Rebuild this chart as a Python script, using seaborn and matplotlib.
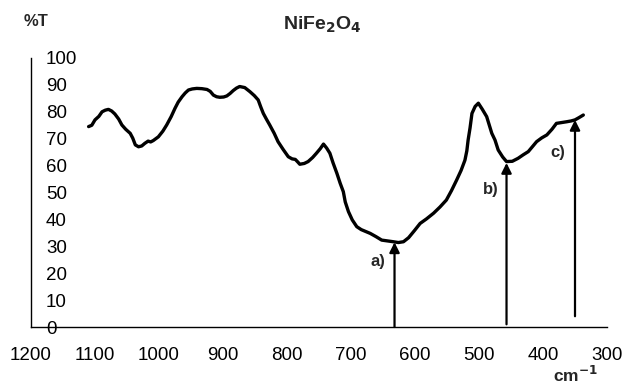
import numpy as np
import pandas as pd
import matplotlib
matplotlib.use("Agg")
import matplotlib.pyplot as plt
import seaborn as sns

# IR spectrum (wavenumber cm-1, %T)
wavenumber = [1110, 1105, 1100, 1094, 1089, 1084, 1079, 1074, 1069, 1063, 1058, 1052,
              1045, 1041, 1037, 1032, 1027, 1022, 1017, 1013, 1009, 1005, 1001, 994,
              988, 981, 975, 970, 964, 959, 954, 948, 941, 933, 925, 920, 915, 910,
              905, 899, 894, 889, 884, 879, 874, 866, 858, 851, 845, 841, 837, 832,
              827, 820, 814, 806, 798, 792, 787, 783, 780, 773, 767, 760, 754, 748,
              743, 738, 733, 728, 722, 717, 712, 709, 704, 698, 691, 684, 677, 670,
              661, 652, 643, 634, 626, 618, 610, 601, 592, 582, 571, 561, 551, 543,
              535, 528, 522, 519, 517, 514, 511, 506, 501, 495, 488, 484, 480, 475,
              470, 463, 457, 448, 439, 431, 423, 417, 410, 402, 394, 386, 379, 371,
              363, 356, 350, 344, 337]
transmittance = [74.5, 75.0, 77.0, 78.3, 80.0, 80.6, 80.9, 80.3, 79.2, 77.3, 75.1, 73.5,
                 72.0, 70.2, 67.7, 67.0, 67.3, 68.3, 69.1, 68.8, 69.3, 70.0, 70.7, 72.8,
                 75.1, 78.2, 81.3, 83.6, 85.6, 87.0, 88.1, 88.5, 88.7, 88.6, 88.3, 87.6,
                 86.2, 85.6, 85.4, 85.5, 85.9, 86.8, 87.9, 88.8, 89.4, 89.0, 87.5, 86.0,
                 84.4, 81.8, 79.4, 77.2, 75.1, 72.0, 68.9, 66.0, 63.3, 62.5, 62.3, 61.3,
                 60.5, 60.8, 61.5, 63.0, 64.6, 66.3, 68.0, 66.5, 64.6, 61.0, 57.1, 53.5,
                 50.3, 46.5, 42.9, 39.8, 37.3, 36.2, 35.5, 34.8, 33.6, 32.3, 32.0, 31.7,
                 31.4, 31.7, 33.2, 35.8, 38.5, 40.2, 42.3, 44.6, 47.2, 50.7, 54.6, 58.2,
                 62.0, 65.5, 69.5, 74.0, 79.4, 82.0, 83.2, 81.0, 78.2, 75.1, 72.0, 69.5,
                 65.8, 63.2, 61.5, 61.6, 62.7, 64.0, 65.2, 66.9, 68.9, 70.3, 71.4, 73.5,
                 75.7, 76.0, 76.3, 76.6, 77.0, 77.8, 78.8]

# marked bands: position, arrow start, arrow tip, label position
band_labels = ["a)", "b)", "c)"]
band_x = [632, 457, 350]
band_base = [0, 1, 4]
band_tip = [31.5, 61, 77]
label_x = [658, 481, 377]
label_y = [24.5, 51.3, 64.9]

df = pd.DataFrame({"wavenumber": wavenumber, "T": transmittance})

sns.set_style("white")
plt.rcParams["font.family"] = ["Liberation Sans", "DejaVu Sans"]

fig = plt.figure(figsize=(6.26, 3.85), dpi=100)
ax = fig.add_axes([31 / 626, 58 / 385, 576 / 626, 269 / 385])

sns.lineplot(data=df, x="wavenumber", y="T", sort=False, color="black",
             linewidth=2.4, ax=ax)

for lab, bx, b0, bt, lx, ly in zip(band_labels, band_x, band_base, band_tip, label_x, label_y):
    ax.annotate("", xy=(bx, bt), xytext=(bx, b0),
                arrowprops=dict(arrowstyle="-|>,head_length=0.6,head_width=0.3",
                                color="black", lw=1.6, shrinkA=0, shrinkB=0))
    ax.text(lx, ly, lab, fontsize=12, fontweight="bold", ha="center", va="center")

ax.set_xlim(1200, 300)
ax.set_ylim(0, 100)
ax.set_xticks(np.arange(1200, 299, -100))
ax.set_yticks(np.arange(0, 101, 10))
ax.set_xlabel("")
ax.set_ylabel("")

sns.despine(ax=ax)
for side in ["left", "bottom"]:
    ax.spines[side].set_color("black")
    ax.spines[side].set_linewidth(1.0)

ax.tick_params(axis="x", direction="out", length=4.5, width=1, pad=10,
               labelsize=13.5, colors="black")
ax.tick_params(axis="y", direction="inout", length=4.5, width=1, pad=-13,
               labelsize=13.5, colors="black")
for t in ax.get_yticklabels():
    t.set_horizontalalignment("left")

fig.text(0.515, 1 - 25 / 385, "NiFe$_\\mathbf{2}$O$_\\mathbf{4}$", fontsize=14,
         fontweight="bold", ha="center", va="center")
fig.text(36 / 626, 1 - 22 / 385, "%T", fontsize=12, fontweight="bold",
         ha="center", va="center")
fig.text(575 / 626, 1 - 375 / 385, "cm$^{\\mathbf{-1}}$", fontsize=12.5,
         fontweight="bold", ha="center", va="center")

plt.savefig("out.png", dpi=100)
plt.close()
